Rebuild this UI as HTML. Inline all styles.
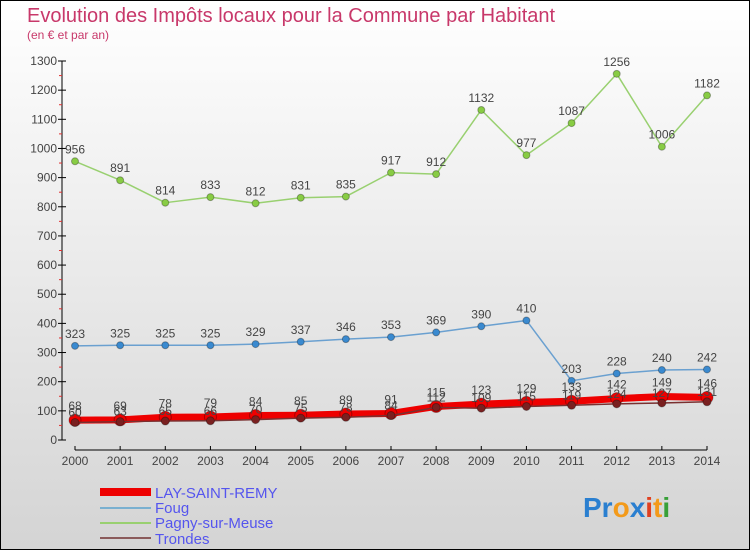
<!DOCTYPE html>
<html><head><meta charset="utf-8"><style>
html,body{margin:0;padding:0}
body{width:750px;height:550px;overflow:hidden;font-family:"Liberation Sans",sans-serif}
</style></head><body>
<svg width="750" height="550" xmlns="http://www.w3.org/2000/svg">
<defs><linearGradient id="bg" x1="0" y1="0" x2="0" y2="1"><stop offset="0" stop-color="#ffffff"/><stop offset="1" stop-color="#d4d4d4"/></linearGradient></defs>
<rect x="0.5" y="0.5" width="749" height="549" fill="url(#bg)" stroke="#000"/>
<text x="27" y="22" font-size="20" fill="#c8386a">Evolution des Impôts locaux pour la Commune par Habitant</text>
<text x="27" y="39" font-size="12" fill="#c8386a">(en € et par an)</text>
<g id="axes"></g>
<g id="series"></g>
<g font-size="15" fill="#5555ee">
<line x1="100" y1="492" x2="151" y2="492" stroke="#ee0000" stroke-width="8"/>
<text x="155" y="498">LAY-SAINT-REMY</text>
<line x1="100" y1="508" x2="151" y2="508" stroke="#7ab0d0" stroke-width="2"/>
<text x="155" y="513">Foug</text>
<line x1="100" y1="523" x2="151" y2="523" stroke="#99d070" stroke-width="2"/>
<text x="155" y="528">Pagny-sur-Meuse</text>
<line x1="100" y1="538" x2="151" y2="538" stroke="#8a5a5a" stroke-width="2"/>
<text x="155" y="544">Trondes</text>
</g>
<text x="583" y="517" font-size="28" font-weight="bold"><tspan fill="#2a7fd0">Pr</tspan><tspan fill="#f39a1a">o</tspan><tspan fill="#2a7fd0">x</tspan><tspan fill="#e04020">i</tspan><tspan fill="#f39a1a">t</tspan><tspan fill="#38a038">i</tspan></text>
</svg>
<script>
const years=[2000,2001,2002,2003,2004,2005,2006,2007,2008,2009,2010,2011,2012,2013,2014];
const yTicks=[0,100,200,300,400,500,600,700,800,900,1000,1100,1200,1300];
const lay=[68,69,78,79,84,85,89,91,115,123,129,133,142,149,146];
const foug=[323,325,325,325,329,337,346,353,369,390,410,203,228,240,242];
const pagny=[956,891,814,833,812,831,835,917,912,1132,977,1087,1256,1006,1182];
const trondes=[60,63,65,66,70,75,78,84,112,109,115,119,124,127,131];
const NS="http://www.w3.org/2000/svg";
const X=i=>75+i*(632/14);
const Y=v=>440-v*(379/1300);
function mk(tag,attrs,parent){const e=document.createElementNS(NS,tag);for(const k in attrs)e.setAttribute(k,attrs[k]);parent.appendChild(e);return e;}
const ax=document.getElementById('axes');
let l=mk('line',{x1:62,y1:61,x2:62,y2:440,stroke:'#000'},ax);


yTicks.forEach(v=>{
 const t=mk('line',{x1:58,y1:Y(v),x2:66,y2:Y(v),stroke:'#000'},ax);
 
 
 if(v<1300){const m=mk('line',{x1:59,y1:Y(v+50),x2:62,y2:Y(v+50),stroke:'#e03030'},ax);
 
 }
 const tx=mk('text',{x:57,y:Y(v)+4,'font-size':12,fill:'#444','text-anchor':'end'},ax);tx.textContent=v;
 
 
});
l=mk('line',{x1:75,y1:450,x2:707,y2:450,stroke:'#000'},ax);


years.forEach((y,i)=>{
 const t=mk('line',{x1:X(i),y1:446,x2:X(i),y2:450,stroke:'#000'},ax);
 
 
 const tx=mk('text',{x:X(i),y:465,'font-size':12,fill:'#444','text-anchor':'middle'},ax);tx.textContent=y;
 
 
});
const sg=document.getElementById('series');
function series(name,data,color,w,r,dot,labelDy){
 const g=mk('g',{},sg);
 
 
 const p=mk('polyline',{points:data.map((v,i)=>X(i)+','+Y(v)).join(' '),fill:'none',stroke:color,'stroke-width':w,'stroke-linejoin':'round'},g);
 
 
 data.forEach((v,i)=>{
  const c=mk('circle',{cx:X(i),cy:Y(v),r:r,fill:dot,stroke:'rgba(0,0,0,0.3)'},g);
  
  
  const t=mk('text',{x:X(i),y:Y(v)+labelDy,'font-size':12,fill:'#444','text-anchor':'middle'},g);t.textContent=v;
  
  
 });
}
series('pagny',pagny,'#99d070',1.5,3.5,'#88cc44',-8);
series('foug',foug,'#6aa0d0',1.5,3.5,'#3a8ad0',-8);
series('lay',lay,'#ee0000',7,6,'#ee0000',-10);
series('trondes',trondes,'#7a3030',1.5,4,'#7a2020',-6);
</script>
</body></html>
